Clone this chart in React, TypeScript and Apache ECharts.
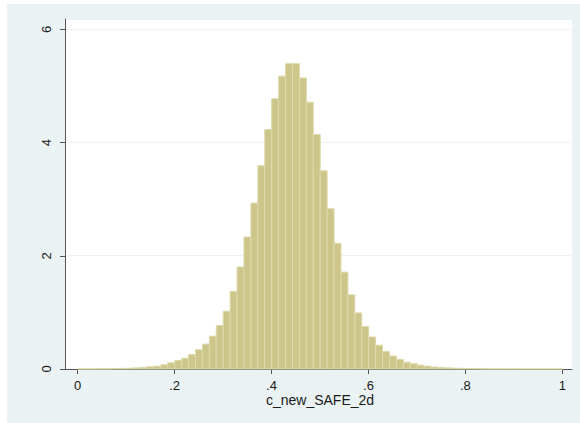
import React, { useEffect, useRef } from "react";
import * as echarts from "echarts";

// Histogram of c_new_SAFE_2d: 70 bins of equal width on [0, 1]
const BIN_COUNT = 70;
const BIN_WIDTH = 1 / BIN_COUNT;
const densities: number[] = [
  0.002, 0.002, 0.003, 0.004, 0.005, 0.007, 0.01, 0.014, 0.02, 0.03,
  0.04, 0.05, 0.075, 0.11, 0.15, 0.19, 0.255, 0.34, 0.44, 0.58,
  0.77, 1.02, 1.37, 1.8, 2.33, 2.93, 3.59, 4.23, 4.77, 5.17,
  5.39, 5.39, 5.14, 4.71, 4.14, 3.5, 2.83, 2.22, 1.71, 1.31,
  0.99, 0.75, 0.565, 0.42, 0.31, 0.23, 0.17, 0.12, 0.093, 0.068,
  0.05, 0.036, 0.027, 0.02, 0.015, 0.011, 0.008, 0.006, 0.004, 0.003,
  0.002, 0.002, 0.002, 0.002, 0.001, 0.001, 0.001, 0.001, 0.001, 0.001,
];
const xTickValues = [0, 0.2, 0.4, 0.6, 0.8, 1];
const xTickLabels = ["0", ".2", ".4", ".6", ".8", "1"];
const yTickValues = [0, 2, 4, 6];
const yTickLabels = ["0", "2", "4", "6"];
const xTitle = "c_new_SAFE_2d";

export default function App() {
  const ref = useRef<HTMLDivElement>(null);
  useEffect(() => {
    if (!ref.current) return;
    const chart = echarts.init(ref.current, null, { renderer: "svg" });
    const data = densities.map((d, i) => [i * BIN_WIDTH, (i + 1) * BIN_WIDTH, d]);
    const font = "'Liberation Sans', Arial, Helvetica, sans-serif";
    const textColor = "#1a1a1a";
    const lineColor = "#555555";
    const fmtX = (v: number) => {
      const k = xTickValues.findIndex((t) => Math.abs(t - v) < 1e-6);
      return k >= 0 ? xTickLabels[k] : "";
    };
    const fmtY = (v: number) => {
      const k = yTickValues.findIndex((t) => Math.abs(t - v) < 1e-6);
      return k >= 0 ? yTickLabels[k] : "";
    };
    chart.setOption({
      animation: false,
      backgroundColor: "#ffffff",
      graphic: [
        {
          type: "rect",
          z: -100,
          silent: true,
          shape: { x: 7, y: 4, width: 573, height: 419 },
          style: { fill: "#EAF2F3" },
        },
      ],
      grid: [
        { left: 65, right: 8, top: 19, bottom: 54, show: true, backgroundColor: "#ffffff", borderWidth: 0 },
        { left: 65, right: 8, top: 29.3, bottom: 54 },
        { left: 77.7, width: 484.6, top: 19, bottom: 54 },
      ],
      xAxis: [
        {
          gridIndex: 0,
          type: "value",
          min: -0.0262,
          max: 1.0192,
          axisLine: { show: true, onZero: false, lineStyle: { color: lineColor, width: 1 } },
          axisTick: { show: false },
          axisLabel: { show: false },
          splitLine: { show: false },
        },
        { gridIndex: 1, type: "value", min: 0, max: 1, show: false },
        {
          gridIndex: 2,
          type: "value",
          min: 0,
          max: 1,
          interval: 0.2,
          axisLine: { show: false, onZero: false },
          axisTick: { show: true, length: 5, lineStyle: { color: lineColor } },
          axisLabel: { formatter: fmtX, fontSize: 13, fontFamily: font, color: textColor, margin: 10 },
          splitLine: { show: false },
          name: xTitle,
          nameLocation: "middle",
          nameGap: 24,
          nameMoveOverlap: false,
          nameTextStyle: { fontSize: 14, fontFamily: font, color: textColor },
        },
      ],
      yAxis: [
        {
          gridIndex: 0,
          type: "value",
          min: 0,
          max: 6.18,
          interval: 2,
          axisLine: { show: true, onZero: false, lineStyle: { color: lineColor, width: 1 } },
          axisTick: { show: false },
          axisLabel: { show: false },
          splitLine: { show: true, lineStyle: { color: "#EAF2F3", width: 1 } },
        },
        {
          gridIndex: 1,
          type: "value",
          min: 0,
          max: 6,
          interval: 2,
          axisLine: { show: false, onZero: false },
          axisTick: { show: true, length: 5, lineStyle: { color: lineColor } },
          axisLabel: { formatter: fmtY, rotate: 90, fontSize: 13, fontFamily: font, color: textColor, margin: 12 },
          splitLine: { show: false },
        },
        { gridIndex: 2, type: "value", min: 0, max: 1, show: false },
      ],
      series: [
        {
          type: "custom",
          xAxisIndex: 0,
          yAxisIndex: 0,
          data,
          encode: { x: [0, 1], y: 2 },
          renderItem: (_params: any, api: any) => {
            const p0 = api.coord([api.value(0), 0]);
            const p1 = api.coord([api.value(1), api.value(2)]);
            return {
              type: "rect",
              shape: { x: p0[0], y: p1[1], width: p1[0] - p0[0], height: p0[1] - p1[1] },
              style: { fill: "#CDC68A", stroke: "#DDD9AC", lineWidth: 1 },
            };
          },
        },
      ],
    });
    return () => chart.dispose();
  }, []);
  return (
    <div
      ref={ref}
      style={{ position: "absolute", left: 0, top: 0, width: 580, height: 423 }}
    />
  );
}
